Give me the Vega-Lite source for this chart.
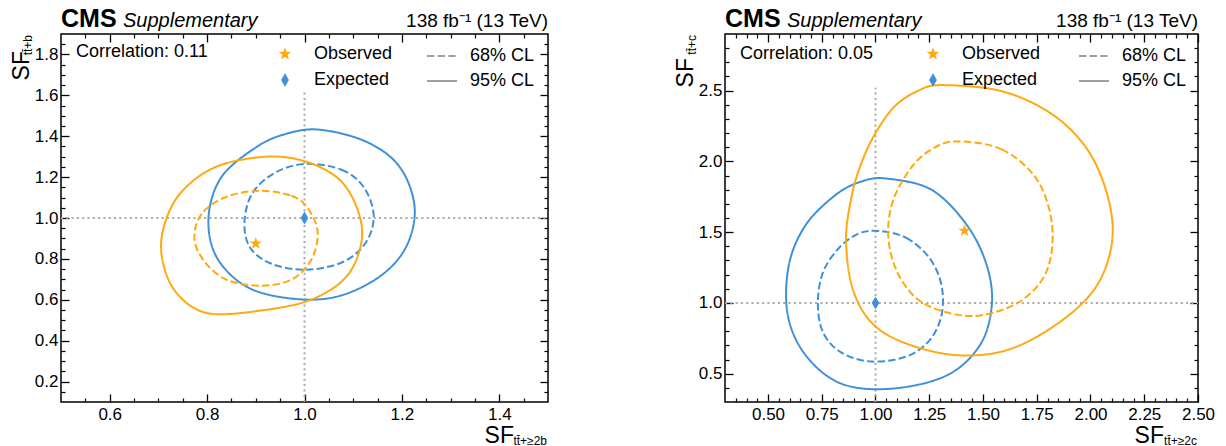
{
"$schema":"https://vega.github.io/schema/vega-lite/v6.json",
"background":"white",
"padding":{"left":10,"top":6,"right":5,"bottom":2},
"bounds":"flush",
"spacing":177,
"config":{"view":{"stroke":"black","strokeWidth":1.5},"font":"Liberation Sans","text":{"font":"Liberation Sans","color":"black"}},
"datasets":{
"one":[{}],
"cl":[
{"t":"Expected","c":"95% CL","i":0,"x":1.031,"y":1.432},{"t":"Expected","c":"95% CL","i":1,"x":1.127,"y":1.373},{"t":"Expected","c":"95% CL","i":2,"x":1.195,"y":1.251},{"t":"Expected","c":"95% CL","i":3,"x":1.226,"y":1.055},{"t":"Expected","c":"95% CL","i":4,"x":1.209,"y":0.860},{"t":"Expected","c":"95% CL","i":5,"x":1.154,"y":0.713},{"t":"Expected","c":"95% CL","i":6,"x":1.066,"y":0.615},{"t":"Expected","c":"95% CL","i":7,"x":0.973,"y":0.606},{"t":"Expected","c":"95% CL","i":8,"x":0.881,"y":0.664},{"t":"Expected","c":"95% CL","i":9,"x":0.819,"y":0.811},{"t":"Expected","c":"95% CL","i":10,"x":0.803,"y":1.006},{"t":"Expected","c":"95% CL","i":11,"x":0.830,"y":1.202},{"t":"Expected","c":"95% CL","i":12,"x":0.902,"y":1.348},{"t":"Expected","c":"95% CL","i":13,"x":0.963,"y":1.412},
{"t":"Expected","c":"68% CL","i":0,"x":1.004,"y":1.265},{"t":"Expected","c":"68% CL","i":1,"x":1.076,"y":1.236},{"t":"Expected","c":"68% CL","i":2,"x":1.121,"y":1.153},{"t":"Expected","c":"68% CL","i":3,"x":1.142,"y":1.016},{"t":"Expected","c":"68% CL","i":4,"x":1.127,"y":0.884},{"t":"Expected","c":"68% CL","i":5,"x":1.080,"y":0.786},{"t":"Expected","c":"68% CL","i":6,"x":1.004,"y":0.747},{"t":"Expected","c":"68% CL","i":7,"x":0.932,"y":0.776},{"t":"Expected","c":"68% CL","i":8,"x":0.887,"y":0.860},{"t":"Expected","c":"68% CL","i":9,"x":0.877,"y":0.992},{"t":"Expected","c":"68% CL","i":10,"x":0.895,"y":1.129},{"t":"Expected","c":"68% CL","i":11,"x":0.943,"y":1.226},
{"t":"Observed","c":"95% CL","i":0,"x":0.922,"y":1.300},{"t":"Observed","c":"95% CL","i":1,"x":1.004,"y":1.275},{"t":"Observed","c":"95% CL","i":2,"x":1.072,"y":1.187},{"t":"Observed","c":"95% CL","i":3,"x":1.109,"y":1.041},{"t":"Observed","c":"95% CL","i":4,"x":1.117,"y":0.884},{"t":"Observed","c":"95% CL","i":5,"x":1.086,"y":0.713},{"t":"Observed","c":"95% CL","i":6,"x":1.014,"y":0.601},{"t":"Observed","c":"95% CL","i":7,"x":0.912,"y":0.548},{"t":"Observed","c":"95% CL","i":8,"x":0.800,"y":0.535},{"t":"Observed","c":"95% CL","i":9,"x":0.735,"y":0.640},{"t":"Observed","c":"95% CL","i":10,"x":0.707,"y":0.811},{"t":"Observed","c":"95% CL","i":11,"x":0.713,"y":0.972},{"t":"Observed","c":"95% CL","i":12,"x":0.748,"y":1.129},{"t":"Observed","c":"95% CL","i":13,"x":0.819,"y":1.251},
{"t":"Observed","c":"68% CL","i":0,"x":0.908,"y":1.133},{"t":"Observed","c":"68% CL","i":1,"x":0.973,"y":1.109},{"t":"Observed","c":"68% CL","i":2,"x":1.006,"y":1.050},{"t":"Observed","c":"68% CL","i":3,"x":1.027,"y":0.933},{"t":"Observed","c":"68% CL","i":4,"x":1.014,"y":0.796},{"t":"Observed","c":"68% CL","i":5,"x":0.973,"y":0.698},{"t":"Observed","c":"68% CL","i":6,"x":0.908,"y":0.669},{"t":"Observed","c":"68% CL","i":7,"x":0.840,"y":0.698},{"t":"Observed","c":"68% CL","i":8,"x":0.795,"y":0.786},{"t":"Observed","c":"68% CL","i":9,"x":0.774,"y":0.899},{"t":"Observed","c":"68% CL","i":10,"x":0.789,"y":1.021},{"t":"Observed","c":"68% CL","i":11,"x":0.840,"y":1.104}
],
"cr":[
{"t":"Expected","c":"95% CL","i":0,"x":1.050,"y":1.879},{"t":"Expected","c":"95% CL","i":1,"x":1.260,"y":1.800},{"t":"Expected","c":"95% CL","i":2,"x":1.424,"y":1.552},{"t":"Expected","c":"95% CL","i":3,"x":1.517,"y":1.268},{"t":"Expected","c":"95% CL","i":4,"x":1.541,"y":0.984},{"t":"Expected","c":"95% CL","i":5,"x":1.485,"y":0.700},{"t":"Expected","c":"95% CL","i":6,"x":1.330,"y":0.487},{"t":"Expected","c":"95% CL","i":7,"x":1.073,"y":0.394},{"t":"Expected","c":"95% CL","i":8,"x":0.840,"y":0.430},{"t":"Expected","c":"95% CL","i":9,"x":0.676,"y":0.629},{"t":"Expected","c":"95% CL","i":10,"x":0.592,"y":0.913},{"t":"Expected","c":"95% CL","i":11,"x":0.597,"y":1.268},{"t":"Expected","c":"95% CL","i":12,"x":0.676,"y":1.552},{"t":"Expected","c":"95% CL","i":13,"x":0.816,"y":1.765},{"t":"Expected","c":"95% CL","i":14,"x":0.933,"y":1.857},
{"t":"Expected","c":"68% CL","i":0,"x":1.013,"y":1.509},{"t":"Expected","c":"68% CL","i":1,"x":1.143,"y":1.460},{"t":"Expected","c":"68% CL","i":2,"x":1.251,"y":1.317},{"t":"Expected","c":"68% CL","i":3,"x":1.307,"y":1.126},{"t":"Expected","c":"68% CL","i":4,"x":1.307,"y":0.913},{"t":"Expected","c":"68% CL","i":5,"x":1.251,"y":0.735},{"t":"Expected","c":"68% CL","i":6,"x":1.143,"y":0.621},{"t":"Expected","c":"68% CL","i":7,"x":0.980,"y":0.586},{"t":"Expected","c":"68% CL","i":8,"x":0.840,"y":0.650},{"t":"Expected","c":"68% CL","i":9,"x":0.756,"y":0.792},{"t":"Expected","c":"68% CL","i":10,"x":0.732,"y":0.998},{"t":"Expected","c":"68% CL","i":11,"x":0.756,"y":1.218},{"t":"Expected","c":"68% CL","i":12,"x":0.830,"y":1.388},{"t":"Expected","c":"68% CL","i":13,"x":0.919,"y":1.488},
{"t":"Observed","c":"95% CL","i":0,"x":1.307,"y":2.539},{"t":"Observed","c":"95% CL","i":1,"x":1.587,"y":2.496},{"t":"Observed","c":"95% CL","i":2,"x":1.821,"y":2.333},{"t":"Observed","c":"95% CL","i":3,"x":1.985,"y":2.085},{"t":"Observed","c":"95% CL","i":4,"x":2.078,"y":1.765},{"t":"Observed","c":"95% CL","i":5,"x":2.101,"y":1.445},{"t":"Observed","c":"95% CL","i":6,"x":2.031,"y":1.126},{"t":"Observed","c":"95% CL","i":7,"x":1.868,"y":0.877},{"t":"Observed","c":"95% CL","i":8,"x":1.634,"y":0.678},{"t":"Observed","c":"95% CL","i":9,"x":1.400,"y":0.629},{"t":"Observed","c":"95% CL","i":10,"x":1.167,"y":0.700},{"t":"Observed","c":"95% CL","i":11,"x":0.994,"y":0.842},{"t":"Observed","c":"95% CL","i":12,"x":0.896,"y":1.090},{"t":"Observed","c":"95% CL","i":13,"x":0.863,"y":1.445},{"t":"Observed","c":"95% CL","i":14,"x":0.890,"y":1.760},{"t":"Observed","c":"95% CL","i":15,"x":0.935,"y":1.990},{"t":"Observed","c":"95% CL","i":16,"x":1.000,"y":2.200},{"t":"Observed","c":"95% CL","i":17,"x":1.090,"y":2.390},{"t":"Observed","c":"95% CL","i":18,"x":1.200,"y":2.500},
{"t":"Observed","c":"68% CL","i":0,"x":1.377,"y":2.141},{"t":"Observed","c":"68% CL","i":1,"x":1.587,"y":2.085},{"t":"Observed","c":"68% CL","i":2,"x":1.751,"y":1.871},{"t":"Observed","c":"68% CL","i":3,"x":1.821,"y":1.552},{"t":"Observed","c":"68% CL","i":4,"x":1.798,"y":1.232},{"t":"Observed","c":"68% CL","i":5,"x":1.681,"y":1.019},{"t":"Observed","c":"68% CL","i":6,"x":1.494,"y":0.913},{"t":"Observed","c":"68% CL","i":7,"x":1.330,"y":0.934},{"t":"Observed","c":"68% CL","i":8,"x":1.190,"y":1.033},{"t":"Observed","c":"68% CL","i":9,"x":1.097,"y":1.232},{"t":"Observed","c":"68% CL","i":10,"x":1.059,"y":1.481},{"t":"Observed","c":"68% CL","i":11,"x":1.083,"y":1.729},{"t":"Observed","c":"68% CL","i":12,"x":1.167,"y":1.957},{"t":"Observed","c":"68% CL","i":13,"x":1.260,"y":2.085}
],
"pl":[{"t":"Observed","x":0.9,"y":0.875},{"t":"Expected","x":1.0,"y":1.0}],
"pr":[{"t":"Observed","x":1.414,"y":1.51},{"t":"Expected","x":1.0,"y":1.0}]
},
"resolve":{"scale":{"color":"independent","shape":"independent","stroke":"independent","strokeDash":"independent"},"legend":{"color":"independent","shape":"independent","strokeDash":"independent"}},
"hconcat":[
{
"width":487,"height":368,
"resolve":{"axis":{"x":"independent","y":"independent"}},
"layer":[
{"data":{"name":"one"},"mark":{"type":"rule","strokeDash":[2,3.3],"color":"#a8a8a8","strokeWidth":2},
 "encoding":{
  "x":{"datum":1.0,"type":"quantitative","scale":{"domain":[0.5,1.5],"nice":false,"zero":false},
   "axis":{"orient":"top","values":[0.6,0.8,1.0,1.2,1.4],"labels":false,"title":null,"domain":false,"grid":false,"tickSize":-8,"tickWidth":1.3,"tickColor":"black"}},
  "y":{"datum":0.1,"type":"quantitative","scale":{"domain":[0.1,1.9],"nice":false,"zero":false},
   "axis":{"orient":"right","values":[0.2,0.4,0.6,0.8,1.0,1.2,1.4,1.6,1.8],"labels":false,"title":null,"domain":false,"grid":false,"tickSize":-8,"tickWidth":1.3,"tickColor":"black"}},
  "y2":{"datum":1.63}
 }},
{"data":{"name":"one"},"mark":{"type":"rule","strokeDash":[2,3.3],"color":"#a8a8a8","strokeWidth":2},
 "encoding":{
  "x":{"datum":0.5,"type":"quantitative","scale":{"domain":[0.5,1.5],"nice":false,"zero":false},
   "axis":{"orient":"top","values":[0.55,0.65,0.7,0.75,0.85,0.9,0.95,1.05,1.1,1.15,1.25,1.3,1.35,1.45],"labels":false,"title":null,"domain":false,"grid":false,"tickSize":-4,"tickWidth":1.2,"tickColor":"black"}},
  "x2":{"datum":1.5},
  "y":{"datum":1.0,"type":"quantitative","scale":{"domain":[0.1,1.9],"nice":false,"zero":false},
   "axis":{"orient":"right","values":[0.15,0.25,0.3,0.35,0.45,0.5,0.55,0.65,0.7,0.75,0.85,0.9,0.95,1.05,1.1,1.15,1.25,1.3,1.35,1.45,1.5,1.55,1.65,1.7,1.75,1.85],"labels":false,"title":null,"domain":false,"grid":false,"tickSize":-4,"tickWidth":1.2,"tickColor":"black"}}
 }},
{"data":{"name":"cl"},
 "mark":{"type":"line","interpolate":"cardinal-closed","strokeWidth":2,"clip":true},
 "encoding":{
  "x":{"field":"x","type":"quantitative","scale":{"domain":[0.5,1.5],"nice":false,"zero":false},
   "axis":{"orient":"bottom","values":[0.6,0.8,1.0,1.2,1.4],"format":".1f","title":null,"domain":false,"grid":false,"tickSize":-8,"tickWidth":1.3,"tickColor":"black","labelFontSize":17,"labelFont":"Liberation Sans","labelColor":"black","labelPadding":12,"labelFlush":false,"labelOverlap":false}},
  "y":{"field":"y","type":"quantitative","scale":{"domain":[0.1,1.9],"nice":false,"zero":false},
   "axis":{"orient":"left","values":[0.2,0.4,0.6,0.8,1.0,1.2,1.4,1.6,1.8],"format":".1f","title":null,"domain":false,"grid":false,"tickSize":-8,"tickWidth":1.3,"tickColor":"black","labelFontSize":17,"labelFont":"Liberation Sans","labelColor":"black","labelPadding":11,"labelFlush":false,"labelOverlap":false}},
  "stroke":{"field":"t","type":"nominal","scale":{"domain":["Expected","Observed"],"range":["#3f90da","#ffa90e"]},"legend":null},
  "strokeDash":{"field":"c","type":"nominal","scale":{"domain":["68% CL","95% CL"],"range":[[7.4,3.2],[1,0]]},
   "legend":{"orient":"none","legendX":365,"legendY":6,"title":null,"labelFontSize":18,"labelFont":"Liberation Sans","labelColor":"black","symbolType":"stroke","symbolSize":900,"symbolStrokeColor":"#a0a0a0","symbolStrokeWidth":2,"labelOffset":12,"rowPadding":0,"padding":0}},
  "order":{"field":"i","type":"quantitative"}
 }},
{"data":{"name":"pl"},
 "mark":{"type":"point","filled":true,"opacity":1,"size":170},
 "encoding":{
  "x":{"field":"x","type":"quantitative","scale":{"domain":[0.5,1.5],"nice":false,"zero":false},
   "axis":{"orient":"bottom","values":[0.55,0.65,0.7,0.75,0.85,0.9,0.95,1.05,1.1,1.15,1.25,1.3,1.35,1.45],"labels":false,"title":null,"domain":false,"grid":false,"tickSize":-4,"tickWidth":1.2,"tickColor":"black"}},
  "y":{"field":"y","type":"quantitative","scale":{"domain":[0.1,1.9],"nice":false,"zero":false},
   "axis":{"orient":"left","values":[0.15,0.25,0.3,0.35,0.45,0.5,0.55,0.65,0.7,0.75,0.85,0.9,0.95,1.05,1.1,1.15,1.25,1.3,1.35,1.45,1.5,1.55,1.65,1.7,1.75,1.85],"labels":false,"title":null,"domain":false,"grid":false,"tickSize":-4,"tickWidth":1.2,"tickColor":"black"}},
  "color":{"field":"t","type":"nominal","scale":{"domain":["Observed","Expected"],"range":["#ffa90e","#3f90da"]},
   "legend":{"orient":"none","legendX":215,"legendY":11,"title":null,"labelFontSize":18,"labelFont":"Liberation Sans","labelColor":"black","symbolSize":180,"labelOffset":20,"rowPadding":8,"padding":0}},
  "shape":{"field":"t","type":"nominal","scale":{"domain":["Observed","Expected"],"range":["M0,-1L0.235,-0.324L0.951,-0.309L0.380,0.124L0.588,0.809L0,0.4L-0.588,0.809L-0.380,0.124L-0.951,-0.309L-0.235,-0.324Z","M0,-1L0.58,0L0,1L-0.58,0Z"]},
   "legend":{"orient":"none","legendX":215,"legendY":11,"title":null,"labelFontSize":18,"labelFont":"Liberation Sans","labelColor":"black","symbolSize":180,"labelOffset":20,"rowPadding":8,"padding":0}}
 }},
{"data":{"name":"one"},"mark":{"type":"text","text":"CMS","fontSize":25,"fontWeight":"bold","align":"left","baseline":"alphabetic","dy":-7},
 "encoding":{"x":{"datum":0.5,"type":"quantitative","scale":{"domain":[0.5,1.5],"nice":false,"zero":false},"axis":null},"y":{"datum":1.9,"type":"quantitative","scale":{"domain":[0.1,1.9],"nice":false,"zero":false},"axis":null}}},
{"data":{"name":"one"},"mark":{"type":"text","text":"Supplementary","fontSize":20,"fontStyle":"italic","align":"left","baseline":"alphabetic","dx":62,"dy":-7},
 "encoding":{"x":{"datum":0.5,"type":"quantitative","scale":{"domain":[0.5,1.5],"nice":false,"zero":false},"axis":null},"y":{"datum":1.9,"type":"quantitative","scale":{"domain":[0.1,1.9],"nice":false,"zero":false},"axis":null}}},
{"data":{"name":"one"},"mark":{"type":"text","text":"138 fb⁻¹ (13 TeV)","fontSize":19,"align":"right","baseline":"alphabetic","dy":-7},
 "encoding":{"x":{"datum":1.5,"type":"quantitative","scale":{"domain":[0.5,1.5],"nice":false,"zero":false},"axis":null},"y":{"datum":1.9,"type":"quantitative","scale":{"domain":[0.1,1.9],"nice":false,"zero":false},"axis":null}}},
{"data":{"name":"one"},"mark":{"type":"text","text":"Correlation: 0.11","fontSize":18,"align":"left","baseline":"alphabetic","dx":15,"dy":23},
 "encoding":{"x":{"datum":0.5,"type":"quantitative","scale":{"domain":[0.5,1.5],"nice":false,"zero":false},"axis":null},"y":{"datum":1.9,"type":"quantitative","scale":{"domain":[0.1,1.9],"nice":false,"zero":false},"axis":null}}},
{"data":{"name":"one"},"mark":{"type":"text","text":"SF","fontSize":23,"align":"right","baseline":"alphabetic","dx":-34,"dy":41},
 "encoding":{"x":{"datum":1.5,"type":"quantitative","scale":{"domain":[0.5,1.5],"nice":false,"zero":false},"axis":null},"y":{"datum":0.1,"type":"quantitative","scale":{"domain":[0.1,1.9],"nice":false,"zero":false},"axis":null}}},
{"data":{"name":"one"},"mark":{"type":"text","text":"tt̄+≥2b","fontSize":12,"align":"right","baseline":"alphabetic","dx":-1,"dy":43},
 "encoding":{"x":{"datum":1.5,"type":"quantitative","scale":{"domain":[0.5,1.5],"nice":false,"zero":false},"axis":null},"y":{"datum":0.1,"type":"quantitative","scale":{"domain":[0.1,1.9],"nice":false,"zero":false},"axis":null}}},
{"data":{"name":"one"},"mark":{"type":"text","text":"SF","fontSize":23,"angle":270,"align":"right","baseline":"alphabetic","dx":-17,"dy":-32},
 "encoding":{"x":{"datum":0.5,"type":"quantitative","scale":{"domain":[0.5,1.5],"nice":false,"zero":false},"axis":null},"y":{"datum":1.9,"type":"quantitative","scale":{"domain":[0.1,1.9],"nice":false,"zero":false},"axis":null}}},
{"data":{"name":"one"},"mark":{"type":"text","text":"tt̄+b","fontSize":12,"angle":270,"align":"right","baseline":"alphabetic","dx":-1,"dy":-29},
 "encoding":{"x":{"datum":0.5,"type":"quantitative","scale":{"domain":[0.5,1.5],"nice":false,"zero":false},"axis":null},"y":{"datum":1.9,"type":"quantitative","scale":{"domain":[0.1,1.9],"nice":false,"zero":false},"axis":null}}}
]
},
{
"width":473,"height":368,
"resolve":{"axis":{"x":"independent","y":"independent"}},
"layer":[
{"data":{"name":"one"},"mark":{"type":"rule","strokeDash":[2,3.3],"color":"#a8a8a8","strokeWidth":2},
 "encoding":{
  "x":{"datum":1.0,"type":"quantitative","scale":{"domain":[0.3,2.5],"nice":false,"zero":false},
   "axis":{"orient":"top","values":[0.5,0.75,1.0,1.25,1.5,1.75,2.0,2.25,2.5],"labels":false,"title":null,"domain":false,"grid":false,"tickSize":-8,"tickWidth":1.3,"tickColor":"black"}},
  "y":{"datum":0.3,"type":"quantitative","scale":{"domain":[0.3,2.9],"nice":false,"zero":false},
   "axis":{"orient":"right","values":[0.5,1.0,1.5,2.0,2.5],"labels":false,"title":null,"domain":false,"grid":false,"tickSize":-8,"tickWidth":1.3,"tickColor":"black"}},
  "y2":{"datum":2.52}
 }},
{"data":{"name":"one"},"mark":{"type":"rule","strokeDash":[2,3.3],"color":"#a8a8a8","strokeWidth":2},
 "encoding":{
  "x":{"datum":0.3,"type":"quantitative","scale":{"domain":[0.3,2.5],"nice":false,"zero":false},
   "axis":{"orient":"top","values":[0.35,0.4,0.45,0.55,0.6,0.65,0.7,0.8,0.85,0.9,0.95,1.05,1.1,1.15,1.2,1.3,1.35,1.4,1.45,1.55,1.6,1.65,1.7,1.8,1.85,1.9,1.95,2.05,2.1,2.15,2.2,2.3,2.35,2.4,2.45],"labels":false,"title":null,"domain":false,"grid":false,"tickSize":-4,"tickWidth":1.2,"tickColor":"black"}},
  "x2":{"datum":2.5},
  "y":{"datum":1.0,"type":"quantitative","scale":{"domain":[0.3,2.9],"nice":false,"zero":false},
   "axis":{"orient":"right","values":[0.4,0.6,0.7,0.8,0.9,1.1,1.2,1.3,1.4,1.6,1.7,1.8,1.9,2.1,2.2,2.3,2.4,2.6,2.7,2.8],"labels":false,"title":null,"domain":false,"grid":false,"tickSize":-4,"tickWidth":1.2,"tickColor":"black"}}
 }},
{"data":{"name":"cr"},
 "mark":{"type":"line","interpolate":"cardinal-closed","strokeWidth":2,"clip":true},
 "encoding":{
  "x":{"field":"x","type":"quantitative","scale":{"domain":[0.3,2.5],"nice":false,"zero":false},
   "axis":{"orient":"bottom","values":[0.5,0.75,1.0,1.25,1.5,1.75,2.0,2.25,2.5],"format":".2f","title":null,"domain":false,"grid":false,"tickSize":-8,"tickWidth":1.3,"tickColor":"black","labelFontSize":17,"labelFont":"Liberation Sans","labelColor":"black","labelPadding":12,"labelFlush":false,"labelOverlap":false}},
  "y":{"field":"y","type":"quantitative","scale":{"domain":[0.3,2.9],"nice":false,"zero":false},
   "axis":{"orient":"left","values":[0.5,1.0,1.5,2.0,2.5],"format":".1f","title":null,"domain":false,"grid":false,"tickSize":-8,"tickWidth":1.3,"tickColor":"black","labelFontSize":17,"labelFont":"Liberation Sans","labelColor":"black","labelPadding":11,"labelFlush":false,"labelOverlap":false}},
  "stroke":{"field":"t","type":"nominal","scale":{"domain":["Expected","Observed"],"range":["#3f90da","#ffa90e"]},"legend":null},
  "strokeDash":{"field":"c","type":"nominal","scale":{"domain":["68% CL","95% CL"],"range":[[7.4,3.2],[1,0]]},
   "legend":{"orient":"none","legendX":353,"legendY":6,"title":null,"labelFontSize":18,"labelFont":"Liberation Sans","labelColor":"black","symbolType":"stroke","symbolSize":900,"symbolStrokeColor":"#a0a0a0","symbolStrokeWidth":2,"labelOffset":12,"rowPadding":0,"padding":0}},
  "order":{"field":"i","type":"quantitative"}
 }},
{"data":{"name":"pr"},
 "mark":{"type":"point","filled":true,"opacity":1,"size":170},
 "encoding":{
  "x":{"field":"x","type":"quantitative","scale":{"domain":[0.3,2.5],"nice":false,"zero":false},
   "axis":{"orient":"bottom","values":[0.35,0.4,0.45,0.55,0.6,0.65,0.7,0.8,0.85,0.9,0.95,1.05,1.1,1.15,1.2,1.3,1.35,1.4,1.45,1.55,1.6,1.65,1.7,1.8,1.85,1.9,1.95,2.05,2.1,2.15,2.2,2.3,2.35,2.4,2.45],"labels":false,"title":null,"domain":false,"grid":false,"tickSize":-4,"tickWidth":1.2,"tickColor":"black"}},
  "y":{"field":"y","type":"quantitative","scale":{"domain":[0.3,2.9],"nice":false,"zero":false},
   "axis":{"orient":"left","values":[0.4,0.6,0.7,0.8,0.9,1.1,1.2,1.3,1.4,1.6,1.7,1.8,1.9,2.1,2.2,2.3,2.4,2.6,2.7,2.8],"labels":false,"title":null,"domain":false,"grid":false,"tickSize":-4,"tickWidth":1.2,"tickColor":"black"}},
  "color":{"field":"t","type":"nominal","scale":{"domain":["Observed","Expected"],"range":["#ffa90e","#3f90da"]},
   "legend":{"orient":"none","legendX":199,"legendY":11,"title":null,"labelFontSize":18,"labelFont":"Liberation Sans","labelColor":"black","symbolSize":180,"labelOffset":20,"rowPadding":8,"padding":0}},
  "shape":{"field":"t","type":"nominal","scale":{"domain":["Observed","Expected"],"range":["M0,-1L0.235,-0.324L0.951,-0.309L0.380,0.124L0.588,0.809L0,0.4L-0.588,0.809L-0.380,0.124L-0.951,-0.309L-0.235,-0.324Z","M0,-1L0.58,0L0,1L-0.58,0Z"]},
   "legend":{"orient":"none","legendX":199,"legendY":11,"title":null,"labelFontSize":18,"labelFont":"Liberation Sans","labelColor":"black","symbolSize":180,"labelOffset":20,"rowPadding":8,"padding":0}}
 }},
{"data":{"name":"one"},"mark":{"type":"text","text":"CMS","fontSize":25,"fontWeight":"bold","align":"left","baseline":"alphabetic","dy":-7},
 "encoding":{"x":{"datum":0.3,"type":"quantitative","scale":{"domain":[0.3,2.5],"nice":false,"zero":false},"axis":null},"y":{"datum":2.9,"type":"quantitative","scale":{"domain":[0.3,2.9],"nice":false,"zero":false},"axis":null}}},
{"data":{"name":"one"},"mark":{"type":"text","text":"Supplementary","fontSize":20,"fontStyle":"italic","align":"left","baseline":"alphabetic","dx":62,"dy":-7},
 "encoding":{"x":{"datum":0.3,"type":"quantitative","scale":{"domain":[0.3,2.5],"nice":false,"zero":false},"axis":null},"y":{"datum":2.9,"type":"quantitative","scale":{"domain":[0.3,2.9],"nice":false,"zero":false},"axis":null}}},
{"data":{"name":"one"},"mark":{"type":"text","text":"138 fb⁻¹ (13 TeV)","fontSize":19,"align":"right","baseline":"alphabetic","dy":-7},
 "encoding":{"x":{"datum":2.5,"type":"quantitative","scale":{"domain":[0.3,2.5],"nice":false,"zero":false},"axis":null},"y":{"datum":2.9,"type":"quantitative","scale":{"domain":[0.3,2.9],"nice":false,"zero":false},"axis":null}}},
{"data":{"name":"one"},"mark":{"type":"text","text":"Correlation: 0.05","fontSize":18,"align":"left","baseline":"alphabetic","dx":15,"dy":25},
 "encoding":{"x":{"datum":0.3,"type":"quantitative","scale":{"domain":[0.3,2.5],"nice":false,"zero":false},"axis":null},"y":{"datum":2.9,"type":"quantitative","scale":{"domain":[0.3,2.9],"nice":false,"zero":false},"axis":null}}},
{"data":{"name":"one"},"mark":{"type":"text","text":"SF","fontSize":23,"align":"right","baseline":"alphabetic","dx":-34,"dy":41},
 "encoding":{"x":{"datum":2.5,"type":"quantitative","scale":{"domain":[0.3,2.5],"nice":false,"zero":false},"axis":null},"y":{"datum":0.3,"type":"quantitative","scale":{"domain":[0.3,2.9],"nice":false,"zero":false},"axis":null}}},
{"data":{"name":"one"},"mark":{"type":"text","text":"tt̄+≥2c","fontSize":12,"align":"right","baseline":"alphabetic","dx":-1,"dy":43},
 "encoding":{"x":{"datum":2.5,"type":"quantitative","scale":{"domain":[0.3,2.5],"nice":false,"zero":false},"axis":null},"y":{"datum":0.3,"type":"quantitative","scale":{"domain":[0.3,2.9],"nice":false,"zero":false},"axis":null}}},
{"data":{"name":"one"},"mark":{"type":"text","text":"SF","fontSize":23,"angle":270,"align":"right","baseline":"alphabetic","dx":-24,"dy":-32},
 "encoding":{"x":{"datum":0.3,"type":"quantitative","scale":{"domain":[0.3,2.5],"nice":false,"zero":false},"axis":null},"y":{"datum":2.9,"type":"quantitative","scale":{"domain":[0.3,2.9],"nice":false,"zero":false},"axis":null}}},
{"data":{"name":"one"},"mark":{"type":"text","text":"tt̄+c","fontSize":12,"angle":270,"align":"right","baseline":"alphabetic","dx":-1,"dy":-29},
 "encoding":{"x":{"datum":0.3,"type":"quantitative","scale":{"domain":[0.3,2.5],"nice":false,"zero":false},"axis":null},"y":{"datum":2.9,"type":"quantitative","scale":{"domain":[0.3,2.9],"nice":false,"zero":false},"axis":null}}}
]
}
]
}
